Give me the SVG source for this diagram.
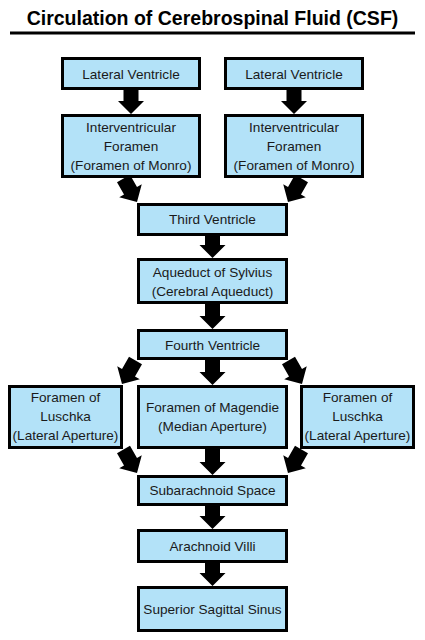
<svg xmlns="http://www.w3.org/2000/svg" width="425" height="640" viewBox="0 0 425 640">
<defs>
<style>
.box{fill:#B3E2F8;stroke:#000;stroke-width:3}
.t{font-family:"Liberation Sans",Arial,sans-serif;font-size:13.6px;fill:#1a1a1a;text-anchor:middle}
.title{font-family:"Liberation Sans",Arial,sans-serif;font-size:19.5px;font-weight:bold;fill:#000;text-anchor:middle}
.arr{fill:#000}
</style>
<path id="ah" d="M0,0 L-13,-13 L-7.5,-13 L-7.5,-27 L7.5,-27 L7.5,-13 L13,-13 Z"/>
</defs>
<rect width="425" height="640" fill="#fff"/>
<g id="title">
<text class="title" x="212.5" y="25">Circulation of Cerebrospinal Fluid (CSF)</text>
<line x1="10" y1="33" x2="415" y2="33" stroke="#000" stroke-width="2.8"/>
</g>
<g id="connectors" class="arr">
<use href="#ah" transform="translate(131,114)"/>
<use href="#ah" transform="translate(294,114)"/>
<use href="#ah" transform="translate(137,202) rotate(-30)"/>
<use href="#ah" transform="translate(288,202) rotate(30)"/>
<use href="#ah" transform="translate(212.5,258)"/>
<use href="#ah" transform="translate(212.5,329)"/>
<use href="#ah" transform="translate(122,384) rotate(30)"/>
<use href="#ah" transform="translate(212.5,385)"/>
<use href="#ah" transform="translate(302,384) rotate(-30)"/>
<use href="#ah" transform="translate(137,473) rotate(-30)"/>
<use href="#ah" transform="translate(212.5,475)"/>
<use href="#ah" transform="translate(288,473) rotate(30)"/>
<use href="#ah" transform="translate(212.5,529)"/>
<use href="#ah" transform="translate(212.5,586)"/>
</g>
<g id="lv1"><rect class="box" x="62.5" y="58.5" width="137" height="30"/><text class="t" x="131" y="78.5">Lateral Ventricle</text></g>
<g id="lv2"><rect class="box" x="225.5" y="58.5" width="137" height="30"/><text class="t" x="294" y="78.5">Lateral Ventricle</text></g>
<g id="if1"><rect class="box" x="62.5" y="115.5" width="137" height="61"/><text class="t" x="131" y="132">Interventricular</text><text class="t" x="131" y="151">Foramen</text><text class="t" x="131" y="170">(Foramen of Monro)</text></g>
<g id="if2"><rect class="box" x="225.5" y="115.5" width="137" height="61"/><text class="t" x="294" y="132">Interventricular</text><text class="t" x="294" y="151">Foramen</text><text class="t" x="294" y="170">(Foramen of Monro)</text></g>
<g id="third"><rect class="box" x="138.5" y="204.5" width="148" height="30"/><text class="t" x="212.5" y="224">Third Ventricle</text></g>
<g id="aqueduct"><rect class="box" x="138.5" y="259.5" width="148" height="43"/><text class="t" x="212.5" y="276.5">Aqueduct of Sylvius</text><text class="t" x="212.5" y="295.5">(Cerebral Aqueduct)</text></g>
<g id="fourth"><rect class="box" x="138.5" y="330.5" width="148" height="28"/><text class="t" x="212.5" y="349.5">Fourth Ventricle</text></g>
<g id="luschka1"><rect class="box" x="9.5" y="386.5" width="112" height="61"/><text class="t" x="65.5" y="402">Foramen of</text><text class="t" x="65.5" y="421">Luschka</text><text class="t" x="65.5" y="440">(Lateral Aperture)</text></g>
<g id="magendie"><rect class="box" x="138.5" y="386.5" width="148" height="61"/><text class="t" x="212.5" y="412">Foramen of Magendie</text><text class="t" x="212.5" y="431">(Median Aperture)</text></g>
<g id="luschka2"><rect class="box" x="301.5" y="386.5" width="112" height="61"/><text class="t" x="357.5" y="402">Foramen of</text><text class="t" x="357.5" y="421">Luschka</text><text class="t" x="357.5" y="440">(Lateral Aperture)</text></g>
<g id="subarachnoid"><rect class="box" x="138.5" y="476.5" width="148" height="28"/><text class="t" x="212.5" y="494.5">Subarachnoid Space</text></g>
<g id="villi"><rect class="box" x="138.5" y="530.5" width="148" height="31"/><text class="t" x="212.5" y="550.5">Arachnoid Villi</text></g>
<g id="sinus"><rect class="box" x="138.5" y="587.5" width="148" height="43"/><text class="t" x="212.5" y="613.5">Superior Sagittal Sinus</text></g>
</svg>
